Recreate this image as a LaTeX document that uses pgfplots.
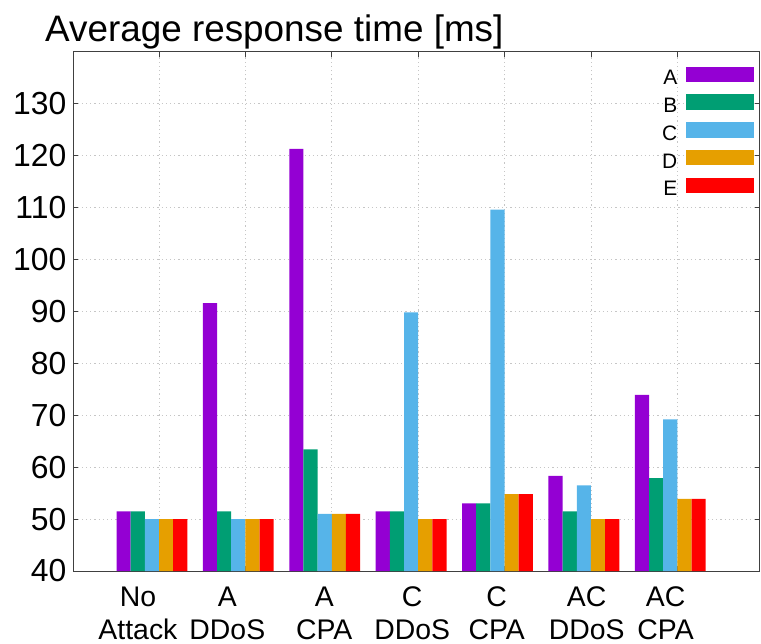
\documentclass[border=0pt]{standalone}
\usepackage{fontspec}
\setmainfont{Liberation Sans}
\usepackage{pgfplots}
\usepackage{pgfplotstable}
\pgfplotsset{compat=1.18}

\definecolor{cA}{HTML}{9400D3}
\definecolor{cB}{HTML}{009E73}
\definecolor{cC}{HTML}{56B4E9}
\definecolor{cD}{HTML}{E69F00}
\definecolor{cE}{HTML}{FF0000}

% average response time [ms], one row per scenario
\pgfplotstableread{
x   A     B     C     D     E
0   51.5  51.5  50    50    50
1   91.6  51.5  50    50    50
2   121.3 63.4  51    51    51
3   51.5  51.5  89.8  50    50
4   53    53    109.6 54.8  54.8
5   58.3  51.5  56.5  50    50
6   73.9  57.9  69.2  53.9  53.9
}\resptime

\begin{document}
\begin{tikzpicture}
\begin{axis}[
    scale only axis,
    width=686bp, height=519.3bp,
    ybar, bar width=0.164,
    xmin=-0.908, xmax=7.033,
    ymin=40, ymax=140,
    ytick={40,50,...,130},
    xtick={0.083,1.083,...,6.083},
    xticklabels={},
    extra x ticks={-0.162,0.873,1.995,3.013,3.991,5.032,5.946},
    extra x tick labels={{No\\Attack},{A\\DDoS},{A\\CPA},{C\\DDoS},{C\\CPA},{AC\\DDoS},{AC\\CPA}},
    extra x tick style={major tick length=0pt, grid=none},
    xmajorgrids, ymajorgrids,
    grid style={gray!45, line width=0.8bp, dash pattern=on 1.2bp off 3bp},
    axis line style={black!75, line width=0.9bp},
    tick align=inside, major tick length=5bp,
    tick style={black!75, line width=0.8bp},
    /pgf/number format/assume math mode=true,
    yticklabel style={font=\fontsize{32}{38}\selectfont, inner sep=0pt, anchor=east, xshift=-7bp},
    xticklabel style={font=\fontsize{28.5}{32.7}\selectfont, inner sep=0pt, align=center, anchor=north, yshift=-15.8bp},
    legend plot pos=right,
    legend cell align=right,
    legend style={at={(1,1)}, anchor=north east, xshift=-5.7bp, yshift=-14.7bp,
        draw=none, fill=none, inner sep=0pt, row sep=9.4bp, column sep=8.7bp,
        font=\fontsize{21}{25}\selectfont,
        nodes={inner sep=0pt, text height=15.1bp, text depth=0pt}},
    legend image code/.code={\fill[#1] (0bp,-4.8bp) rectangle (67.6bp,10.8bp);},
]
\addplot[fill=cA, draw=none, bar shift=-0.328] table[x=x, y=A] {\resptime};
\addplot[fill=cB, draw=none, bar shift=-0.164] table[x=x, y=B] {\resptime};
\addplot[fill=cC, draw=none, bar shift=0] table[x=x, y=C] {\resptime};
\addplot[fill=cD, draw=none, bar shift=0.164] table[x=x, y=D] {\resptime};
\addplot[fill=cE, draw=none, bar shift=0.328] table[x=x, y=E] {\resptime};
\legend{A,B,C,D,E}
\end{axis}
\node[anchor=base west, inner sep=0pt, font=\fontsize{37}{44}\selectfont,
      xshift=-28.5bp, yshift=10.5bp] at (current axis.north west) {Average response time [ms]};
\pgfresetboundingbox
\useasboundingbox ([xshift=-73.5bp,yshift=-73bp]current axis.south west)
    rectangle ([xshift=1.5bp,yshift=51.7bp]current axis.north east);
\end{tikzpicture}
\end{document}
